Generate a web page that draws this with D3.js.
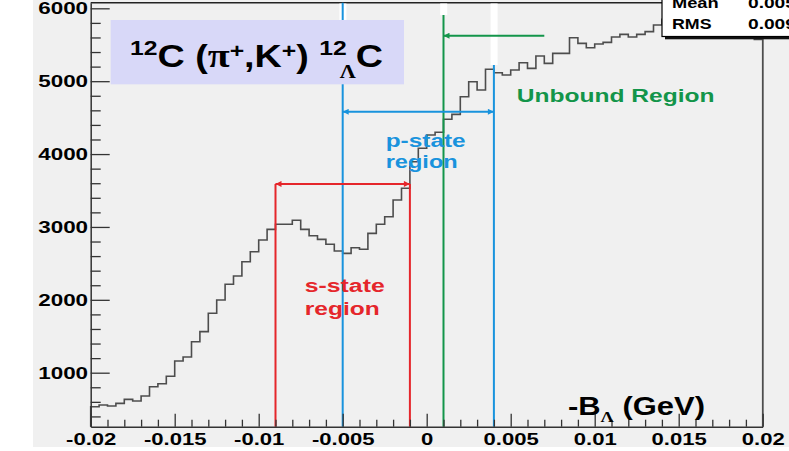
<!DOCTYPE html>
<html lang="en">
<head>
<meta charset="utf-8">
<title>12C (pi+,K+) 12LC  -B_Lambda</title>
<script src="https://cdn.jsdelivr.net/npm/d3@7"></script>
<style>
  html, body { margin: 0; padding: 0; background: #fff; }
  svg { display: block; }
  text { font-family: "Liberation Sans", Arial, Helvetica, sans-serif; font-weight: bold; }
</style>
</head>
<body>
<div id="chart"></div>
<script>
// -B_Lambda spectrum, 80 bins of 0.5 MeV between -0.02 and 0.02 GeV
var binLow = -0.02, binWidth = 0.0005;
var counts = [
    533, 557, 543, 579, 634, 611, 680, 808, 849, 951,
    1160, 1215, 1425, 1563, 1815, 1998, 2213, 2327, 2523, 2660,
    2821, 2967, 3036, 3036, 3091, 2967, 2880, 2830, 2762, 2670,
    2638, 2715, 2693, 2912, 3036, 3140, 3369, 3530, 3895, 4079,
    4261, 4300, 4477, 4545, 4787, 4993, 4879, 5163, 5116, 5084,
    5153, 5253, 5176, 5345, 5245, 5382, 5382, 5596, 5519, 5459,
    5510, 5533, 5606, 5643, 5606, 5643, 5680, 5770, 5850, 5880,
    5900, 5920, 5950, 5960, 5980, 6000, 6010, 6030, 5900, 5574
];

var xMajor = [-0.02, -0.015, -0.01, -0.005, 0, 0.005, 0.01, 0.015, 0.02];
var xLabels = ["-0.02", "-0.015", "-0.01", "-0.005", "0", "0.005", "0.01", "0.015", "0.02"];
var yMajor = [1000, 2000, 3000, 4000, 5000, 6000];
var yLabels = ["1000", "2000", "3000", "4000", "5000", "6000"];

// region boundaries (GeV) and arrow heights (counts)
var sRegion = [-0.009, -0.001], sArrowY = 3590;
var pRegion = [-0.005, 0.004], pArrowY = 4580, pRightTop = 5222;
var unboundEdge = 0.001, unboundArrowEnd = 0.007, unboundArrowY = 5624, unboundTop = 5907;

var statNames = ["Mean", "RMS"];
var statValues = ["0.005", "0.009"];

var red = "#e5262b", blue = "#1993dd", green = "#13954a";

var W = 789, H = 451;
var svg = d3.select("#chart").append("svg").attr("width", W).attr("height", H);

var x = d3.scaleLinear().domain([-0.02, 0.02]).range([90.7, 762.7]);
var y = d3.scaleLinear().domain([259, 6077]).range([426.7, 2.7]);

function fitWidth(sel, left, width) {
    var bb = sel.node().getBBox();
    sel.attr("transform", "translate(" + left + ",0) scale(" + (width / bb.width) + ",1) translate(" + (-bb.x) + ",0)");
}

// background
svg.append("rect").attr("x", 33).attr("y", 0).attr("width", W - 33).attr("height", 447).attr("fill", "#f0f0f0");

// frame top / right
svg.append("line").attr("x1", x(-0.02)).attr("x2", x(0.02)).attr("y1", y(6077)).attr("y2", y(6077))
    .attr("stroke", "#222").attr("stroke-width", 1.4);
svg.append("line").attr("x1", x(0.02)).attr("x2", x(0.02)).attr("y1", y(6077)).attr("y2", y(259))
    .attr("stroke", "#5a5a5a").attr("stroke-width", 1.4);

// white strips at the top (from the original slide)
[[pRegion[0], 20], [unboundEdge, 15], [pRegion[1], 65]].forEach(function (s) {
    svg.append("rect").attr("x", x(s[0]) - 3.3).attr("y", 3.5).attr("width", 7).attr("height", s[1] - 3.5).attr("fill", "#fff");
});

// histogram
var pts = counts.map(function (c, i) { return [binLow + i * binWidth, c]; });
pts.push([binLow + counts.length * binWidth, counts[counts.length - 1]]);
pts.unshift([binLow, 259]);
pts.push([binLow + counts.length * binWidth, 259]);
var line = d3.line().x(function (d) { return x(d[0]); }).y(function (d) { return y(d[1]); }).curve(d3.curveStepAfter);
svg.append("path").attr("d", line(pts)).attr("fill", "none").attr("stroke", "#4d4d4d").attr("stroke-width", 1.6);

// arrow heads
var defs = svg.append("defs");
[["red", red], ["blue", blue], ["green", green]].forEach(function (m) {
    defs.append("marker").attr("id", "ah-" + m[0]).attr("viewBox", "0 0 10 10")
        .attr("refX", 10).attr("refY", 5).attr("markerWidth", 8).attr("markerHeight", 6)
        .attr("markerUnits", "userSpaceOnUse").attr("orient", "auto-start-reverse")
        .append("path").attr("d", "M0,0L10,5L0,10z").attr("fill", m[1]);
});

function vline(v, top, col) {
    svg.append("line").attr("x1", x(v)).attr("x2", x(v)).attr("y1", y(top)).attr("y2", y(259))
        .attr("stroke", col).attr("stroke-width", 2);
}
vline(sRegion[0], sArrowY, red);
vline(sRegion[1], sArrowY, red);
vline(pRegion[0], 6077, blue);
vline(pRegion[1], pRightTop, blue);
vline(unboundEdge, unboundTop, green);

svg.append("line").attr("x1", x(sRegion[0])).attr("x2", x(sRegion[1])).attr("y1", y(sArrowY)).attr("y2", y(sArrowY))
    .attr("stroke", red).attr("stroke-width", 2)
    .attr("marker-start", "url(#ah-red)").attr("marker-end", "url(#ah-red)");
svg.append("line").attr("x1", x(pRegion[0])).attr("x2", x(pRegion[1])).attr("y1", y(pArrowY)).attr("y2", y(pArrowY))
    .attr("stroke", blue).attr("stroke-width", 2)
    .attr("marker-start", "url(#ah-blue)").attr("marker-end", "url(#ah-blue)");
svg.append("line").attr("x1", x(unboundArrowEnd)).attr("x2", x(unboundEdge)).attr("y1", y(unboundArrowY)).attr("y2", y(unboundArrowY))
    .attr("stroke", green).attr("stroke-width", 2).attr("marker-end", "url(#ah-green)");

// region labels
var notes = [
    {text: "Unbound Region", x: 0.00536, y: 4718, w: 198, col: green},
    {text: "p-state", x: -0.00244, y: 4101, w: 80, col: blue},
    {text: "region", x: -0.00244, y: 3804, w: 72, col: blue},
    {text: "s-state", x: -0.00726, y: 2111, w: 80, col: red},
    {text: "region", x: -0.00726, y: 1792, w: 75, col: red}
];
notes.forEach(function (n) {
    var t = svg.append("text").attr("x", x(n.x)).attr("y", y(n.y)).attr("font-size", 19)
        .attr("fill", n.col).text(n.text);
    fitWidth(t, x(n.x), n.w);
});

// title box
svg.append("rect").attr("x", 110.7).attr("y", 20).attr("width", 293.3).attr("height", 64.3).attr("fill", "#d8d8f8");
var title = svg.append("text").attr("x", 130).attr("y", 66.7).attr("font-size", 32).attr("fill", "#000");
[
    {t: "12", fs: 21, dy: -11.7},
    {t: "C", fs: 32, dy: 11.7},
    {t: " (", fs: 32, dy: 0},
    {t: "π", fs: 34, dy: 0, serif: true},
    {t: "+", fs: 21, dy: -9},
    {t: ",", fs: 32, dy: 9},
    {t: "K", fs: 32, dy: 0},
    {t: "+", fs: 21, dy: -9},
    {t: ") ", fs: 32, dy: 9},
    {t: "12", fs: 21, dy: -11.7},
    {t: "Λ", fs: 19, dy: 23, dx: -6, serif: true},
    {t: "C", fs: 32, dy: -11.3}
].forEach(function (p) {
    var s = title.append("tspan").attr("font-size", p.fs).attr("dy", p.dy).text(p.t);
    if (p.dx) s.attr("dx", p.dx);
    if (p.serif) s.style("font-family", "'Liberation Serif', 'Times New Roman', serif");
});
fitWidth(title, 130, 253);

// axes
var yMinor = d3.range(400, 6001, 200).filter(function (v) { return v % 1000 !== 0; });
var xMinor = d3.range(-20, 21).filter(function (i) { return i % 5 !== 0; }).map(function (i) { return i / 1000; });

svg.append("g").attr("transform", "translate(" + x(-0.02) + ",0)").attr("color", "#333")
    .call(d3.axisLeft(y).tickValues(yMinor).tickSizeInner(-10).tickSizeOuter(0).tickFormat(""))
    .call(function (g) { g.select(".domain").remove(); g.selectAll("line").attr("stroke-width", 1.3); });
var gy = svg.append("g").attr("transform", "translate(" + x(-0.02) + ",0)").attr("color", "#333")
    .call(d3.axisLeft(y).tickValues(yMajor).tickSizeInner(-19).tickSizeOuter(0).tickPadding(2)
        .tickFormat(function (d, i) { return yLabels[i]; }));
gy.select(".domain").attr("stroke-width", 1.5);
gy.selectAll("line").attr("stroke-width", 1.3);
gy.selectAll("text").attr("font-size", 17).attr("fill", "#000").attr("transform", "scale(1.32,1)");

svg.append("g").attr("transform", "translate(0," + y(259) + ")").attr("color", "#333")
    .call(d3.axisBottom(x).tickValues(xMinor).tickSizeInner(-7).tickSizeOuter(0).tickFormat(""))
    .call(function (g) { g.select(".domain").remove(); g.selectAll("line").attr("stroke-width", 1.3); });
var gx = svg.append("g").attr("transform", "translate(0," + y(259) + ")").attr("color", "#333")
    .call(d3.axisBottom(x).tickValues(xMajor).tickSizeInner(-13).tickSizeOuter(0).tickPadding(6)
        .tickFormat(function (d, i) { return xLabels[i]; }));
gx.select(".domain").attr("stroke-width", 1.5);
gx.selectAll("line").attr("stroke-width", 1.3);
gx.selectAll("text").attr("font-size", 17).attr("fill", "#000").attr("transform", "scale(1.3,1)");

// axis title
var xt = svg.append("text").attr("x", 568).attr("y", 415).attr("font-size", 25).attr("fill", "#000");
xt.append("tspan").text("-B");
xt.append("tspan").attr("font-size", 15).attr("dy", 7).style("font-family", "'Liberation Serif', serif").text("Λ");
xt.append("tspan").attr("dy", -7).text(" (GeV)");
fitWidth(xt, 568, 137);

// stats box
svg.append("rect").attr("x", 665).attr("y", 36.5).attr("width", 130).attr("height", 2.8).attr("fill", "#111");
svg.append("rect").attr("x", 662).attr("y", -5).attr("width", 140).attr("height", 41.5)
    .attr("fill", "#fff").attr("stroke", "#000").attr("stroke-width", 1.2);
var statY = [8.3, 29.3], statW = [46.7, 40];
statNames.forEach(function (n, i) {
    var t = svg.append("text").attr("x", 672).attr("y", statY[i]).attr("font-size", 14.5).attr("fill", "#000").text(n);
    fitWidth(t, 672, statW[i]);
    var v = svg.append("text").attr("x", 748).attr("y", statY[i]).attr("font-size", 14.5).attr("fill", "#000").text(statValues[i]);
    fitWidth(v, 748, 48);
});
</script>
</body>
</html>
